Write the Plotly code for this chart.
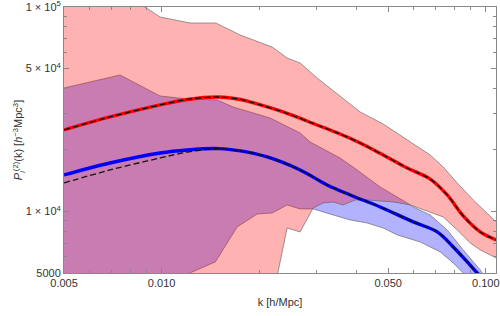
import plotly.graph_objects as go

# ---------------- data ----------------
# red (tracer 1) error band
k_red_hi = [0.005, 0.0075, 0.00889, 0.00989, 0.01224, 0.0147, 0.01747, 0.02192, 0.02439, 0.02675,
            0.03018, 0.03241, 0.03554, 0.03735, 0.04097, 0.04824, 0.05722, 0.06738, 0.0739, 0.08163,
            0.09146, 0.10105, 0.1077]
P_red_hi = [140000, 112000, 100000, 89400, 83500, 83500, 72960, 63740, 56320, 53230,
            44960, 41090, 36720, 34700, 30660, 26780, 22370, 18890, 16500, 13780,
            11380, 9830, 8890]
k_red_lo = [0.005, 0.01951, 0.02439, 0.02675, 0.02934, 0.0315, 0.03382, 0.03631, 0.03954, 0.04306,
            0.04723, 0.05181, 0.05845, 0.0739, 0.08163, 0.08954, 0.09615, 0.1077]
P_red_lo = [1000, 1500, 8300, 7940, 10400, 11000, 11130, 10760, 11380, 11380,
            11250, 11130, 10760, 9400, 8120, 7015, 6480, 5925]

# blue (tracer 2) error band
k_blue_hi = [0.005, 0.00744, 0.00989, 0.01199, 0.01483, 0.01662, 0.02161, 0.0232, 0.02675, 0.02872,
             0.03554, 0.0401, 0.04723, 0.05722, 0.05971, 0.06738, 0.07603, 0.08519, 0.09615, 0.1077]
P_blue_hi = [40170, 46500, 36720, 35490, 35100, 32430, 28660, 27080, 24200, 21870,
             18260, 15950, 13180, 11000, 10520, 9610, 8120, 6480, 5175, 3900]
k_blue_lo = [0.005, 0.01465, 0.0171, 0.01971, 0.02192, 0.02439, 0.02675, 0.02934, 0.03382, 0.03816,
             0.04306, 0.04824, 0.05329, 0.06276, 0.07234, 0.07935, 0.08519, 0.1077]
P_blue_lo = [2700, 5665, 8400, 9720, 9830, 10760, 10290, 10290, 9610, 9090,
             8780, 8300, 7680, 7090, 6340, 5600, 5000, 3000]

# measured curves
k_red_line = [0.005, 0.00693, 0.00989, 0.0120, 0.0150, 0.0175, 0.01875, 0.0237, 0.03018, 0.03554,
              0.04097, 0.04824, 0.05722, 0.06738, 0.07603, 0.08519, 0.09615, 0.1077]
P_red_line = [25030, 28980, 33180, 35300, 36290, 35300, 34320, 30660, 26480, 23920,
              21620, 18890, 16310, 14400, 12040, 9506, 7940, 7255]
k_blue_line = [0.005, 0.00693, 0.00989, 0.0120, 0.0150, 0.0175, 0.02116, 0.02675, 0.0324, 0.03816,
               0.04723, 0.05971, 0.07081, 0.07935, 0.08765, 0.0941, 0.1077]
P_blue_line = [15080, 17260, 19320, 19990, 20300, 19770, 18470, 15950, 13480, 12040,
               10520, 8890, 7940, 6705, 5665, 5000, 4131]

# model (dashed) curves
k_red_model = k_red_line
P_red_model = P_red_line
k_blue_model = [0.005, 0.00693, 0.00989, 0.0120, 0.0150, 0.0175, 0.02116, 0.02675, 0.0324, 0.03816,
                0.04723, 0.05971, 0.07081, 0.07935, 0.08765, 0.0941, 0.1077]
P_blue_model = [13780, 15950, 18260, 19500, 20300, 19770, 18470, 15950, 13480, 12040,
                10520, 8890, 7940, 6705, 5665, 5000, 4131]

x_tickvals = [0.005, 0.01, 0.05, 0.1]
x_ticktext = ["0.005", "0.010", "0.050", "0.100"]
x_minor = [0.006, 0.007, 0.008, 0.009, 0.02, 0.03, 0.04, 0.06, 0.07, 0.08, 0.09]
y_tickvals = [5000, 10000, 50000, 100000]
y_ticktext = ["5000", "1 × 10<sup>4</sup>", "5 × 10<sup>4</sup>", "1 × 10<sup>5</sup>"]
y_minor = [6000, 7000, 8000, 9000, 20000, 30000, 40000, 60000, 70000, 80000, 90000]

# ---------------- figure ----------------
edge = dict(color="rgba(90,90,90,0.75)", width=0.8)
fig = go.Figure()

fig.add_trace(go.Scatter(x=k_blue_lo, y=P_blue_lo, mode="lines", line=edge, showlegend=False))
fig.add_trace(go.Scatter(x=k_blue_hi, y=P_blue_hi, mode="lines", line=edge, fill="tonexty",
                         fillcolor="rgba(0,0,255,0.3)", showlegend=False))
fig.add_trace(go.Scatter(x=k_red_lo, y=P_red_lo, mode="lines", line=edge, showlegend=False))
fig.add_trace(go.Scatter(x=k_red_hi, y=P_red_hi, mode="lines", line=edge, fill="tonexty",
                         fillcolor="rgba(255,0,0,0.3)", showlegend=False))

spl = dict(shape="spline", smoothing=1.0)
fig.add_trace(go.Scatter(x=k_red_line, y=P_red_line, mode="lines",
                         line=dict(color="#ff0000", width=3.4, **spl), showlegend=False))
fig.add_trace(go.Scatter(x=k_blue_line, y=P_blue_line, mode="lines",
                         line=dict(color="#0000ff", width=3.4, **spl), showlegend=False))
fig.add_trace(go.Scatter(x=k_red_model, y=P_red_model, mode="lines",
                         line=dict(color="#111111", width=1.3, dash="6px,3px", **spl), showlegend=False))
fig.add_trace(go.Scatter(x=k_blue_model, y=P_blue_model, mode="lines",
                         line=dict(color="#111111", width=1.3, dash="6px,3px", **spl), showlegend=False))

axis_common = dict(type="log", showgrid=False, zeroline=False, showline=True, linecolor="#888888",
                   linewidth=1, mirror="ticks", ticks="inside", ticklen=5, tickcolor="#888888",
                   tickfont=dict(size=11, color="#333333"), automargin=False,
                   ticklabeloverflow="allow")

fig.update_xaxes(range=[-2.30113, -0.9685], tickvals=x_tickvals, ticktext=x_ticktext,
                 minor=dict(tickvals=x_minor, ticks="inside", ticklen=3, tickcolor="#888888", showgrid=False),
                 title=dict(text="k [h/Mpc]", font=dict(size=11, color="#333333"), standoff=10),
                 **axis_common)
fig.update_yaxes(range=[3.69887, 5.0001], tickvals=y_tickvals, ticktext=y_ticktext,
                 minor=dict(tickvals=y_minor, ticks="inside", ticklen=3, tickcolor="#888888", showgrid=False),
                 title=dict(text="<i>P</i><sub><i>l</i></sub><sup>(2)</sup>(k) [<i>h</i><sup>−3</sup>Mpc<sup>3</sup>]",
                            font=dict(size=11, color="#333333"), standoff=0),
                 **axis_common)

fig.update_layout(width=500, height=316, margin=dict(l=64, r=4, t=7, b=43),
                  plot_bgcolor="white", paper_bgcolor="white",
                  font=dict(family="Liberation Sans, Arial, sans-serif", size=11, color="#333333"))

fig.write_html("out.html", config={"displayModeBar": False},
               post_script="document.body.style.margin='0';")
